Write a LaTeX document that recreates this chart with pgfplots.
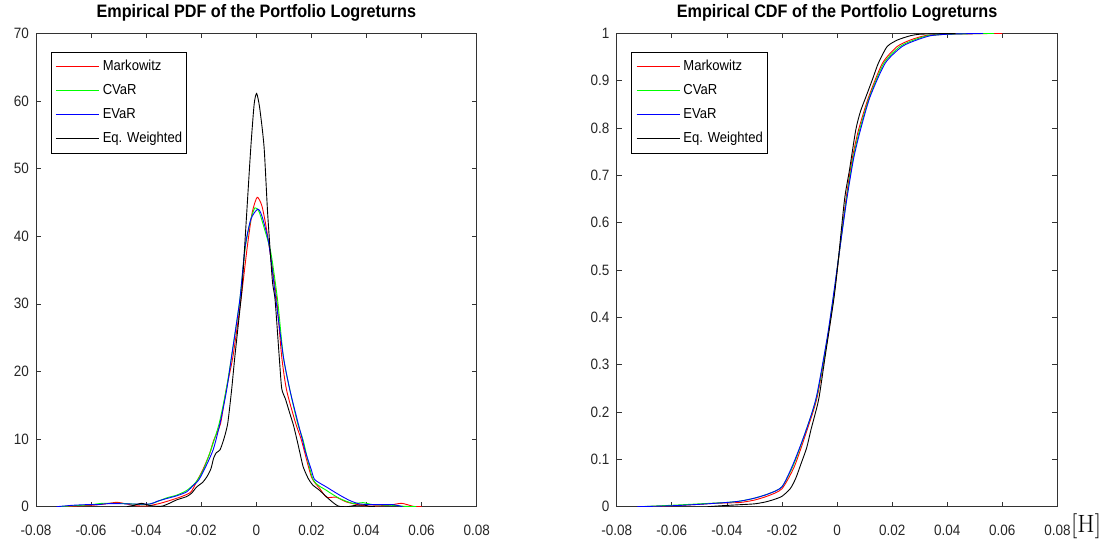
\documentclass[border=0pt]{standalone}
\usepackage{fontspec}
\newfontfamily\lib{Liberation Sans}[FakeStretch=0.9]
\usepackage{pgfplots}
\pgfplotsset{compat=1.18}

\pgfplotsset{
 mystyle/.style={
  scale only axis, width=440.7pt, height=473.4pt, anchor=south west,
  axis line style={line width=0.7pt, black!80},
  tick align=inside, major tick length=5pt,
  every tick/.style={black!80, line width=0.6pt},
  xmin=-0.08, xmax=0.08,
  xtick={-0.08,-0.06,-0.04,-0.02,0,0.02,0.04,0.06,0.08},
  xticklabels={-0.08,-0.06,-0.04,-0.02,0,0.02,0.04,0.06,0.08},
  scaled x ticks=false, scaled y ticks=false,
  ticklabel style={font=\lib\fontsize{15}{17}\selectfont, text=black!85},
  xticklabel style={anchor=base, inner sep=0pt, yshift=-28.5pt},
  yticklabel style={anchor=east, inner sep=0pt, xshift=-7pt},
  title style={font=\lib\bfseries\fontsize{18}{20}\selectfont, at={(0.5,1)}, anchor=base, yshift=9.3pt, inner sep=0pt},
  legend style={at={(axis description cs:0.0333,0.96)}, anchor=north west,
    draw, fill=white,
    inner xsep=4.5pt, inner ysep=2.5pt, row sep=0pt, column sep=3.5pt,
    font=\lib\fontsize{14.5}{16}\selectfont,
    nodes={inner xsep=0pt, inner ysep=5pt, text height=10.5pt, text depth=3.5pt}},
  legend cell align=left,
  legend image code/.code={\draw[##1, line width=0.9pt] (0pt,0pt) -- (43pt,0pt);},
 },
}

\begin{document}
\begin{tikzpicture}
\path[use as bounding box] (0,0) rectangle (1109pt,546pt);

\begin{axis}[mystyle, at={(36pt,39.3pt)},
  ymin=0, ymax=70, ytick={0,10,20,30,40,50,60,70},
  yticklabels={0,10,20,30,40,50,60,70},
  title={Empirical PDF of the Portfolio Logreturns}]
\addplot[red, line width=0.9pt, smooth, tension=0.4] coordinates {
(-0.070,0) (-0.065,0.1) (-0.060,0.2) (-0.055,0.4) (-0.0507,0.65) (-0.047,0.4) (-0.044,0.15)
(-0.040,0.1) (-0.037,0.3) (-0.034,0.6) (-0.030,1.1) (-0.0265,1.6) (-0.0237,2.2) (-0.0217,3.7)
(-0.0195,5.4) (-0.017,7.8) (-0.0155,9.8) (-0.013,12.3) (-0.011,17.2) (-0.0085,22.2) (-0.0056,30.6)
(-0.0033,38.4) (-0.0015,43.5) (0.0003,45.75) (0.002,44.5) (0.0035,41.5) (0.0052,37.0) (0.0074,30.6)
(0.0092,22.2) (0.011,17.2) (0.0143,12.3) (0.0164,9.8) (0.020,4.4) (0.023,2.7) (0.0255,1.4)
(0.029,1.4) (0.0327,0.7) (0.038,0.2) (0.041,0.1) (0.048,0.2) (0.0527,0.5) (0.057,0.05) (0.060,0)
};
\addlegendentry{Markowitz}
\addplot[green, line width=0.9pt, smooth, tension=0.4] coordinates {
(-0.072,0) (-0.066,0.15) (-0.060,0.3) (-0.056,0.5) (-0.051,0.5) (-0.047,0.45) (-0.043,0.35)
(-0.040,0.3) (-0.037,0.6) (-0.0326,1.3) (-0.029,1.7) (-0.0253,2.4) (-0.022,3.6) (-0.0193,5.4)
(-0.0165,8.4) (-0.0135,12.3) (-0.011,17.2) (-0.009,22.2) (-0.006,30.6) (-0.004,38.4) (-0.002,42.5)
(-0.0005,44.2) (0.001,43.6) (0.003,41.0) (0.0053,37.5) (0.0077,30.6) (0.0098,22.2) (0.0122,17.2)
(0.015,12.3) (0.017,9.8) (0.0206,4.0) (0.0255,2.4) (0.0303,1.2) (0.035,0.5) (0.0388,0.6)
(0.0424,0.3) (0.0497,0.2) (0.054,0.05) (0.058,0)
};
\addlegendentry{CVaR}
\addplot[blue, line width=0.9pt, smooth, tension=0.4] coordinates {
(-0.0725,0) (-0.067,0.2) (-0.062,0.3) (-0.058,0.3) (-0.054,0.45) (-0.050,0.45) (-0.045,0.4)
(-0.0386,0.4) (-0.036,0.8) (-0.0326,1.2) (-0.029,1.6) (-0.0253,2.2) (-0.0225,3.3) (-0.021,3.9)
(-0.019,5.4) (-0.0157,8.4) (-0.0132,12.3) (-0.0108,17.2) (-0.009,22.2) (-0.006,30.6) (-0.0041,38.4)
(-0.002,42.5) (0.0005,44.0) (0.002,43.0) (0.0045,39.0) (0.0071,30.6) (0.0098,22.2) (0.0122,17.2)
(0.0152,12.3) (0.0168,9.8) (0.0176,8.4) (0.020,5.4) (0.0212,4.0) (0.0255,2.9) (0.0303,1.7)
(0.034,0.9) (0.0376,0.4) (0.0436,0.3) (0.0497,0.3) (0.053,0)
};
\addlegendentry{EVaR}
\addplot[black, line width=0.9pt, smooth, tension=0.4] coordinates {
(-0.047,0) (-0.0445,0.2) (-0.0417,0.5) (-0.039,0.2) (-0.036,0.05) (-0.034,0.1) (-0.031,0.6)
(-0.029,1.0) (-0.0253,1.5) (-0.0235,2.0) (-0.0217,2.9) (-0.0195,3.6) (-0.018,4.4) (-0.0165,5.6)
(-0.0155,7.2) (-0.0145,8.0) (-0.0132,8.4) (-0.0118,10.0) (-0.0104,12.3) (-0.009,17.2) (-0.0078,22.2)
(-0.0056,30.6) (-0.005,33.5) (-0.0035,43.4) (-0.002,53.2) (-0.0008,59.5) (0.0001,61.1) (0.0012,59.0)
(0.0028,53.2) (0.0041,43.4) (0.0058,33.5) (0.0068,30.6) (0.0083,22.2) (0.0092,17.5) (0.0105,16.0)
(0.012,14.0) (0.0135,12.0) (0.0148,9.8) (0.0158,8.0) (0.017,5.9) (0.0188,4.2) (0.0205,3.2)
(0.023,2.4) (0.0267,1.0) (0.0297,0.1) (0.033,0) (0.036,0.2) (0.039,0.25) (0.041,0.05) (0.043,0)
};
\addlegendentry{Eq. Weighted}
\end{axis}

\begin{axis}[mystyle, at={(616.7pt,39.3pt)},
  ymin=0, ymax=1, ytick={0,0.1,0.2,0.3,0.4,0.5,0.6,0.7,0.8,0.9,1},
  yticklabels={0,0.1,0.2,0.3,0.4,0.5,0.6,0.7,0.8,0.9,1},
  title={Empirical CDF of the Portfolio Logreturns}]
\addplot[red, line width=0.9pt, smooth, tension=0.4] coordinates {
(-0.070,0) (-0.060,0.002) (-0.050,0.005) (-0.045,0.007) (-0.040,0.008) (-0.035,0.009)
(-0.030,0.014) (-0.025,0.023) (-0.020,0.038) (-0.0155,0.085) (-0.011,0.16) (-0.0072,0.232)
(-0.0033,0.36) (-0.0008,0.46) (0.001,0.545) (0.0032,0.648) (0.0055,0.735) (0.0078,0.796)
(0.0115,0.866) (0.0165,0.937) (0.0218,0.972) (0.0267,0.986) (0.032,0.995) (0.040,0.998)
(0.050,0.999) (0.060,1)
};
\addlegendentry{Markowitz}
\addplot[green, line width=0.9pt, smooth, tension=0.4] coordinates {
(-0.072,0) (-0.060,0.003) (-0.050,0.006) (-0.040,0.009) (-0.035,0.012) (-0.030,0.018)
(-0.025,0.027) (-0.020,0.042) (-0.0157,0.09) (-0.0112,0.162) (-0.0074,0.232) (-0.0034,0.36)
(-0.0009,0.46) (0.001,0.545) (0.0034,0.648) (0.0058,0.735) (0.0082,0.796) (0.0118,0.866)
(0.0170,0.937) (0.0228,0.972) (0.028,0.986) (0.033,0.995) (0.040,0.998) (0.048,0.999) (0.057,1)
};
\addlegendentry{CVaR}
\addplot[blue, line width=0.9pt, smooth, tension=0.4] coordinates {
(-0.0725,0) (-0.060,0.002) (-0.050,0.005) (-0.040,0.009) (-0.035,0.012) (-0.030,0.018)
(-0.025,0.027) (-0.020,0.042) (-0.0158,0.092) (-0.0112,0.162) (-0.0075,0.232) (-0.0035,0.36)
(-0.001,0.46) (0.001,0.545) (0.0035,0.648) (0.006,0.735) (0.0085,0.796) (0.012,0.866)
(0.0175,0.937) (0.0236,0.972) (0.029,0.986) (0.034,0.995) (0.040,0.998) (0.046,0.999) (0.053,1)
};
\addlegendentry{EVaR}
\addplot[black, line width=0.9pt, smooth, tension=0.4] coordinates {
(-0.047,0) (-0.042,0.002) (-0.036,0.004) (-0.030,0.006) (-0.026,0.010) (-0.023,0.015)
(-0.020,0.022) (-0.017,0.038) (-0.015,0.060) (-0.013,0.092) (-0.011,0.125) (-0.0095,0.162)
(-0.008,0.195) (-0.0065,0.232) (-0.004,0.33) (-0.0012,0.437) (0.0002,0.507) (0.0027,0.648)
(0.0045,0.711) (0.0068,0.796) (0.0085,0.835) (0.0105,0.866) (0.013,0.905) (0.015,0.937)
(0.0182,0.972) (0.022,0.986) (0.0267,0.995) (0.030,0.998) (0.036,0.999) (0.043,1)
};
\addlegendentry{Eq. Weighted}
\end{axis}

\node[anchor=base west, inner sep=0pt, font=\fontsize{25}{28}\selectfont] at (1071pt,13pt) {[H]};
\end{tikzpicture}
\end{document}
